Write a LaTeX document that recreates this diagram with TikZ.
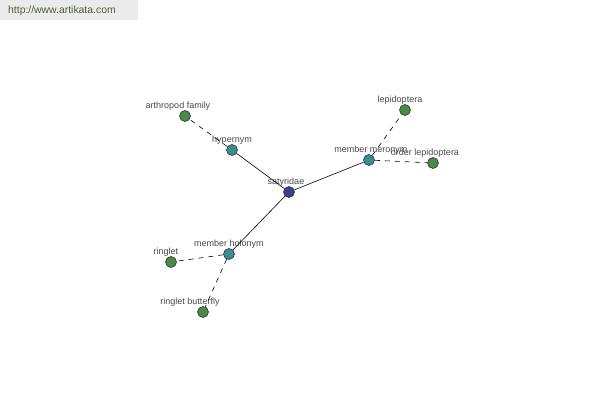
\documentclass[tikz,border=0pt]{standalone}
\usepackage{fontspec}
\setmainfont{Liberation Sans}
\definecolor{rootc}{HTML}{3C4290}
\definecolor{relc}{HTML}{3A8E8E}
\definecolor{leafc}{HTML}{4A8A44}
\definecolor{txtc}{HTML}{484848}
\tikzset{
  every label/.style={font=\fontsize{9}{10}\selectfont, text=txtc, inner sep=0pt},
  wn/.style={draw=black!80, circle, inner sep=0pt, minimum size=11pt, line width=0.6pt},
  rootnode/.style={wn, fill=rootc},
  relnode/.style={wn, fill=relc},
  leafnode/.style={wn, fill=leafc},
  solidlink/.style={draw, line width=0.6pt},
  dashlink/.style={draw, line width=0.6pt, dash pattern=on 5pt off 5pt}
}
\begin{document}
\begin{tikzpicture}[x=1pt,y=-1pt]
\useasboundingbox (0,0) rectangle (600,400);
\fill[black!8] (0,0) rectangle (138,20);
\node[anchor=west, font=\fontsize{10.4}{11}\selectfont, text={rgb,255:red,80;green,95;blue,55}, inner sep=0pt] (url) at (8,11) {http://www.artikata.com};

\node[rootnode, label={[xshift=-3pt]above:satyridae}] (sat) at (289,192) {};
\node[relnode, label={above:hypernym}] (hyp) at (232,150) {};
\node[relnode, label={[xshift=2pt]above:member meronym}] (mer) at (369,160) {};
\node[relnode, label={above:member holonym}] (hol) at (229,254) {};
\node[leafnode, label={[xshift=-7pt]above:arthropod family}] (arth) at (185,116) {};
\node[leafnode, label={[xshift=-5pt]above:lepidoptera}] (lep) at (405,110) {};
\node[leafnode, label={[xshift=-8pt]above:order lepidoptera}] (olep) at (433,163) {};
\node[leafnode, label={[xshift=-5pt]above:ringlet}] (ring) at (171,262) {};
\node[leafnode, label={[xshift=-13pt]above:ringlet butterfly}] (rbut) at (203,312) {};

\path[solidlink] (sat) -- (hyp);
\path[solidlink] (sat) -- (mer);
\path[solidlink] (sat) -- (hol);
\path[dashlink] (hyp) -- (arth);
\path[dashlink] (mer) -- (lep);
\path[dashlink] (mer) -- (olep);
\path[dashlink] (hol) -- (ring);
\path[dashlink] (hol) -- (rbut);
\end{tikzpicture}
\end{document}
